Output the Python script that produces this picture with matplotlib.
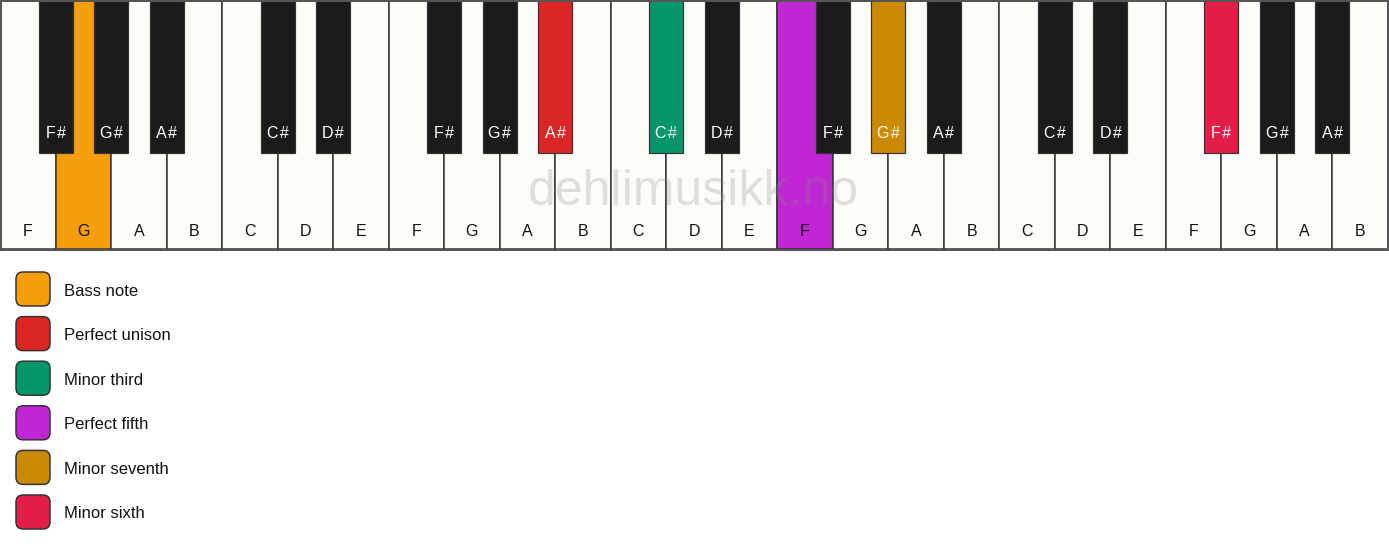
import matplotlib.pyplot as plt
from matplotlib.patches import Rectangle, FancyBboxPatch

plt.rcParams['font.family'] = ['Liberation Sans', 'DejaVu Sans']

white_notes = ['F', 'G', 'A', 'B', 'C', 'D', 'E'] * 3 + ['F', 'G', 'A', 'B']
sharp_after = {'F': 'F#', 'G': 'G#', 'A': 'A#', 'C': 'C#', 'D': 'D#'}

legend_labels = ['Bass note', 'Perfect unison', 'Minor third', 'Perfect fifth',
                 'Minor seventh', 'Minor sixth']
legend_colors = ['#F59E0B', '#DC2626', '#059669', '#C026D3', '#CA8A04', '#E11D48']
# (key type, index among keys of that type) for each legend entry
highlight_keys = [('white', 1), ('black', 7), ('black', 8), ('white', 14),
                  ('black', 11), ('black', 15)]

W, H = 1389, 550
fig = plt.figure(figsize=(W / 100, H / 100), dpi=100)
ax = fig.add_axes([0, 0, 1, 1])
ax.set_xlim(0, W)
ax.set_ylim(H, 0)
ax.axis('off')

px = 0.72  # one pixel in points
key_w = (W - 1) / len(white_notes)
white_h = 249
black_w = 34
black_h = 153

colour_of = {k: c for k, c in zip(highlight_keys, legend_colors)}

# white keys
for i, name in enumerate(white_notes):
    fc = colour_of.get(('white', i), '#FDFCF9')
    ax.add_patch(Rectangle((i * key_w, 0), key_w, white_h, facecolor=fc,
                           edgecolor='#333333', lw=1.5 * px, zorder=1))
    ax.text(i * key_w + key_w / 2, 231, name, ha='center', va='center',
            fontsize=11.5, color='#111111', zorder=5)

ax.add_patch(Rectangle((0.5, 0.5), W - 2, white_h, facecolor='none',
                       edgecolor='#555555', lw=2 * px, zorder=4))

ax.text(W / 2 - 1, 192, 'dehlimusikk.no', ha='center', va='center', fontsize=36,
        color='#888888', alpha=0.26, zorder=2)

# black keys
b = 0
for i, name in enumerate(white_notes[:-1]):
    if name not in sharp_after:
        continue
    fc = colour_of.get(('black', b), '#1B1B1B')
    x = (i + 1) * key_w - black_w / 2
    ax.add_patch(Rectangle((x, 0), black_w, black_h, facecolor=fc,
                           edgecolor='#333333', lw=1.2 * px, zorder=3))
    label = sharp_after[name].replace('#', '\u200a#')
    ax.text(x + black_w / 2, 134, label, ha='center', va='center',
            fontsize=11.5, color='white', zorder=5)
    b += 1

# legend
for j, (label, c) in enumerate(zip(legend_labels, legend_colors)):
    y = 272 + j * 44.6
    ax.add_patch(FancyBboxPatch((16, y), 34, 34,
                                boxstyle='round,pad=0,rounding_size=7',
                                facecolor=c, edgecolor='#333333', lw=1.5 * px))
    ax.text(64, y + 19, label, ha='left', va='center', fontsize=12,
            color='#111111')

fig.savefig('out.png', dpi=100)
